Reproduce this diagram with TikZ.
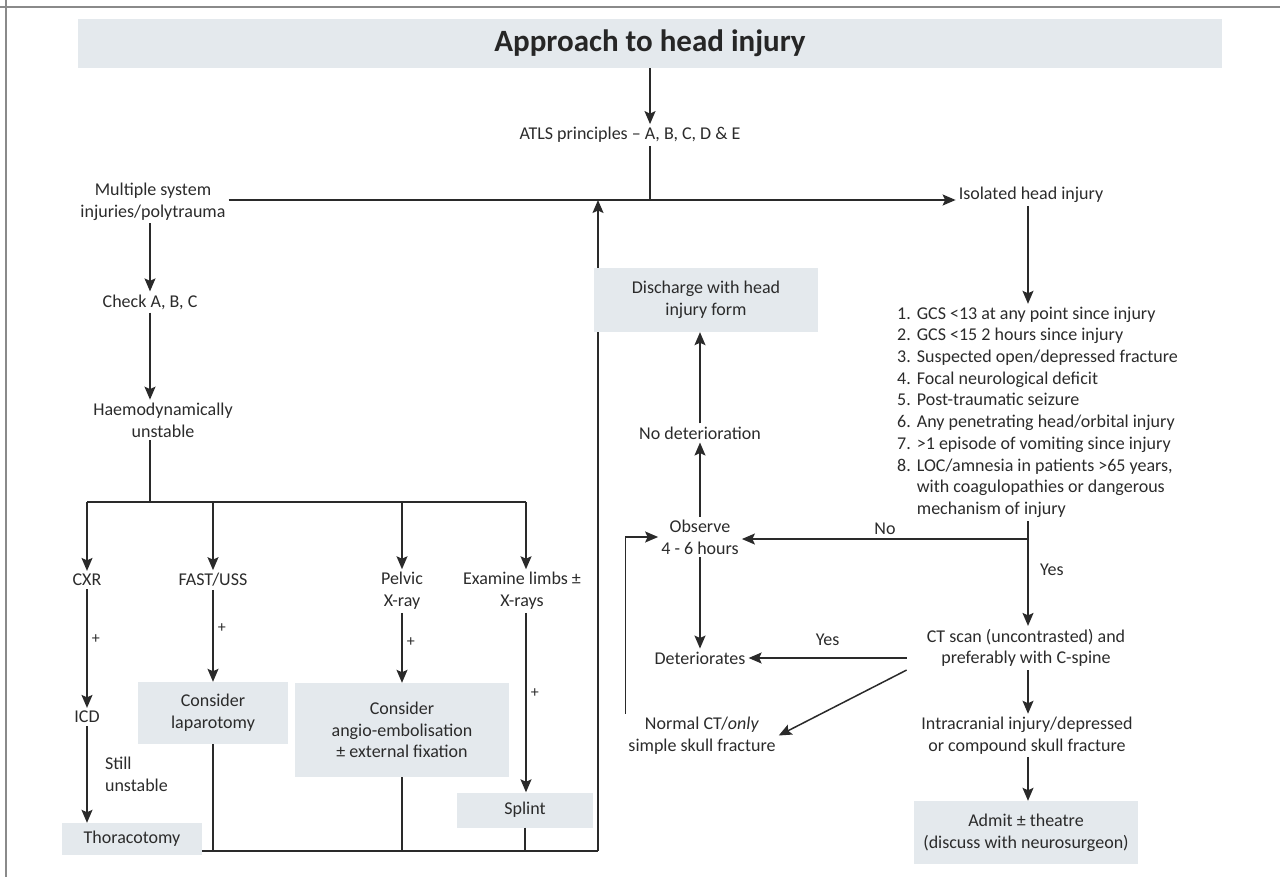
\documentclass[tikz,border=0pt]{standalone}
\usepackage{fontspec}
\setmainfont{Carlito}
\usetikzlibrary{arrows.meta}
\definecolor{boxgrey}{HTML}{E4E9ED}
\definecolor{inkgrey}{HTML}{2B2B2B}
\definecolor{linegrey}{HTML}{2A2A2A}
\definecolor{framegrey}{HTML}{8A8A8A}

\begin{document}
\begin{tikzpicture}[
    x=1pt, y=-1pt,
    font=\fontsize{18}{21.7}\selectfont,
    text=inkgrey,
    txt/.style={align=center, inner sep=3pt},
    greybox/.style={fill=boxgrey, align=center, inner sep=0pt},
    arr/.style={-{Stealth[length=13pt, width=11pt, inset=2.5pt]}, line width=1.5pt, draw=linegrey},
    ln/.style={line width=1.5pt, draw=linegrey},
    plus/.style={font=\fontsize{16}{18}\selectfont, inner sep=4pt}
  ]
  \useasboundingbox (0,0) rectangle (1280,877);

  %% Frame
  \draw[framegrey, line width=1.6pt] (0,7) -- (1280,7);
  \draw[framegrey, line width=1.6pt] (6,0) -- (6,877);

  %% Title and first split
  \node[greybox, minimum width=1144pt, minimum height=49pt,
        font=\fontsize{31}{36}\selectfont\bfseries, text=black!85] (title) at (650,43.5) {Approach to head injury};
  \node[txt] (atls) at (630,135) {ATLS principles -- A, B, C, D \& E};
  \node[txt] (multi) at (153,201.5) {Multiple system\\injuries/polytrauma};
  \node[txt] (isolated) at (1031,195) {Isolated head injury};
  \coordinate (jn) at (650,200);
  \coordinate (up) at (598,851);

  \draw[arr] (title) -- (title |- atls.north);
  \draw[ln] (title |- atls.south) -- (jn);
  \draw[arr] (multi.east |- jn) -- (isolated.west |- jn);

  %% Polytrauma branch
  \node[txt] (check) at (150,302) {Check A, B, C};
  \node[txt] (haemo) at (163,420) {Haemodynamically\\unstable};
  \coordinate (split) at (150,502);
  \coordinate (limbsdrop) at (526,502);

  \draw[arr] (multi.south -| check) -- (check.north);
  \draw[arr] (check) -- (check |- haemo.north);
  \draw[ln] (check |- haemo.south) -- (split);

  \node[txt] (cxr) at (87,580) {CXR};
  \node[txt] (fast) at (213,580) {FAST/USS};
  \node[txt] (pelvic) at (402,591) {Pelvic\\X-ray};
  \node[txt] (limbs) at (522,591) {Examine limbs ±\\X-rays};

  \draw[ln] (cxr |- split) -- (limbsdrop);
  \draw[arr] (cxr |- split) -- (cxr.north);
  \draw[arr] (fast |- split) -- (fast.north);
  \draw[arr] (pelvic |- split) -- (pelvic.north);
  \draw[arr] (limbsdrop) -- (limbsdrop |- limbs.north);

  \node[txt] (icd) at (87,717) {ICD};
  \node[greybox, minimum width=140pt, minimum height=32pt] (thor) at (132,839) {Thoracotomy};
  \node[greybox, minimum width=150pt, minimum height=62pt] (lap) at (213,713) {Consider\\laparotomy};
  \node[greybox, minimum width=214pt, minimum height=94pt] (angio) at (402,730) {Consider\\angio-embolisation\\± external fixation};
  \node[greybox, minimum width=136pt, minimum height=35pt] (splint) at (525,810) {Splint};

  \draw[arr] (cxr) -- node[plus, right, pos=0.42]{+} (icd);
  \draw[arr] (icd) -- node[right=14pt, align=left]{Still\\unstable} (icd |- thor.north);
  \draw[arr] (fast) -- node[plus, right, pos=0.42]{+} (fast |- lap.north);
  \draw[arr] (pelvic) -- node[plus, right, pos=0.42]{+} (angio);
  \draw[arr] (limbsdrop |- limbs.south) -- node[plus, right, pos=0.45]{+} (limbsdrop |- splint.north);

  %% Back to the head injury pathway
  \draw[ln] (thor.east |- up) -- (up);
  \draw[ln] (lap) -- (lap |- up);
  \draw[ln] (angio) -- (angio |- up);
  \draw[ln] (splint) -- (splint |- up);
  \draw[arr] (up) -- (up |- jn);

  %% Isolated head injury branch
  \coordinate (yesno) at (1028,539);
  \node[anchor=west, inner sep=0pt] (crit) at (897,412.5) {%
    \begin{tabular}{@{}l@{\hspace{6pt}}l@{}}
      1. & GCS <13 at any point since injury\\
      2. & GCS <15 2 hours since injury\\
      3. & Suspected open/depressed fracture\\
      4. & Focal neurological deficit\\
      5. & Post-traumatic seizure\\
      6. & Any penetrating head/orbital injury\\
      7. & >1 episode of vomiting since injury\\
      8. & LOC/amnesia in patients >65 years,\\
         & with coagulopathies or dangerous\\
         & mechanism of injury
    \end{tabular}};
  \draw[arr] (yesno |- isolated.south) -- (yesno |- crit.north);
  \draw[ln] (yesno |- crit.south) -- (yesno);

  \node[txt] (observe) at (700,537) {Observe\\4 - 6 hours};
  \node[txt] (nodet) at (700,433) {No deterioration};
  \node[greybox, minimum width=224pt, minimum height=64pt] (discharge) at (706,300) {Discharge with head\\injury form};
  \node[txt] (deter) at (700,658) {Deteriorates};
  \node[txt] (normal) at (702,735.5) {Normal CT/\textit{only}\\simple skull fracture};
  \node[txt, inner xsep=20pt] (ct) at (1026,648) {CT scan (uncontrasted) and\\preferably with C-spine};
  \node[txt] (intra) at (1027,735.5) {Intracranial injury/depressed\\or compound skull fracture};
  \node[greybox, minimum width=224pt, minimum height=63pt] (admit) at (1026,832.5) {Admit ± theatre\\(discuss with neurosurgeon)};

  \draw[arr] (yesno) -- node[above]{No} (yesno -| observe.east);
  \draw[arr] (yesno) -- node[right=8pt, pos=0.35]{Yes} (yesno |- ct.north);
  \draw[arr] (observe) -- (nodet);
  \draw[arr] (nodet) -- (nodet |- discharge.south);
  \draw[arr] (observe) -- (deter);
  \draw[arr] (ct.west |- deter) -- node[above=8pt]{Yes} (deter.east);
  \draw[arr] (ct.south west) -- (normal.east);
  \draw[arr] (normal.north west) |- (observe.west);
  \draw[arr] (ct.south -| yesno) -- (yesno |- intra.north);
  \draw[arr] (intra.south -| yesno) -- (yesno |- admit.north);

\end{tikzpicture}
\end{document}
